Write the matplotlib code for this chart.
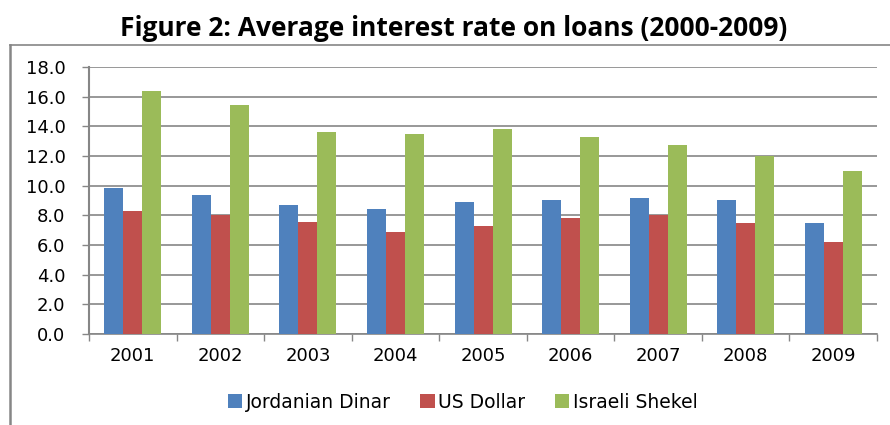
import matplotlib
matplotlib.use("Agg")
import matplotlib.pyplot as plt
from matplotlib.lines import Line2D
import numpy as np

years = ['2001', '2002', '2003', '2004', '2005', '2006', '2007', '2008', '2009']
jordanian_dinar = [9.85, 9.4, 8.7, 8.45, 8.9, 9.05, 9.2, 9.05, 7.45]
us_dollar = [8.3, 8.0, 7.55, 6.9, 7.3, 7.85, 8.0, 7.45, 6.2]
israeli_shekel = [16.4, 15.45, 13.65, 13.45, 13.8, 13.25, 12.75, 12.0, 11.0]
series_names = ['Jordanian Dinar', 'US Dollar', 'Israeli Shekel']

plt.rcParams['font.family'] = ['DejaVu Sans']
grey = '#868686'

fig = plt.figure(figsize=(8.9, 4.25), dpi=100)
ax = fig.add_axes([0.1, 0.2141, 0.8854, 0.6283])

x = np.arange(len(years))
w = 0.217
colors = ['#4f81bd', '#c0504d', '#9bbb59']
for i, (vals, name) in enumerate(zip([jordanian_dinar, us_dollar, israeli_shekel], series_names)):
    ax.bar(x + (i - 1) * w, vals, w, color=colors[i], label=name, zorder=3)

ax.set_xlim(-0.5, len(years) - 0.5)
ax.set_ylim(0, 18)
ax.set_yticks(np.arange(0, 18.1, 2))
ax.set_yticklabels([f'{v:.1f}' for v in np.arange(0, 18.1, 2)])
ax.set_xticks(x)
ax.set_xticklabels(years)
ax.set_xticks(np.arange(-0.5, len(years), 1), minor=True)
ax.tick_params(axis='x', which='major', length=0, pad=9, labelsize=13)
ax.tick_params(axis='x', which='minor', length=5, color=grey, width=1)
ax.tick_params(axis='y', length=5, color=grey, width=1, labelsize=13, pad=12)

ax.grid(axis='y', color=grey, linewidth=1.2, zorder=0)
for s in ['top', 'right']:
    ax.spines[s].set_visible(False)
ax.spines['left'].set_color(grey)
ax.spines['left'].set_linewidth(1.5)
ax.spines['bottom'].set_color(grey)
ax.spines['bottom'].set_linewidth(1.2)

fig.text(0.51, 0.934, 'Figure 2: Average interest rate on loans (2000-2009)',
         ha='center', va='center', fontsize=19, fontweight='bold',
         family='Open Sans')

fig.add_artist(Line2D([0.0112, 1.0], [0.894, 0.894], color=grey, linewidth=1.2))
fig.add_artist(Line2D([0.0112, 0.0112], [0.0, 0.894], color=grey, linewidth=1.8))

fig.legend(loc='center', bbox_to_anchor=(0.52, 0.054), ncol=3, frameon=False,
           fontsize=13.5, handlelength=0.75, handleheight=0.75, handletextpad=0.2,
           columnspacing=1.6)

fig.savefig('out.png', dpi=100)
